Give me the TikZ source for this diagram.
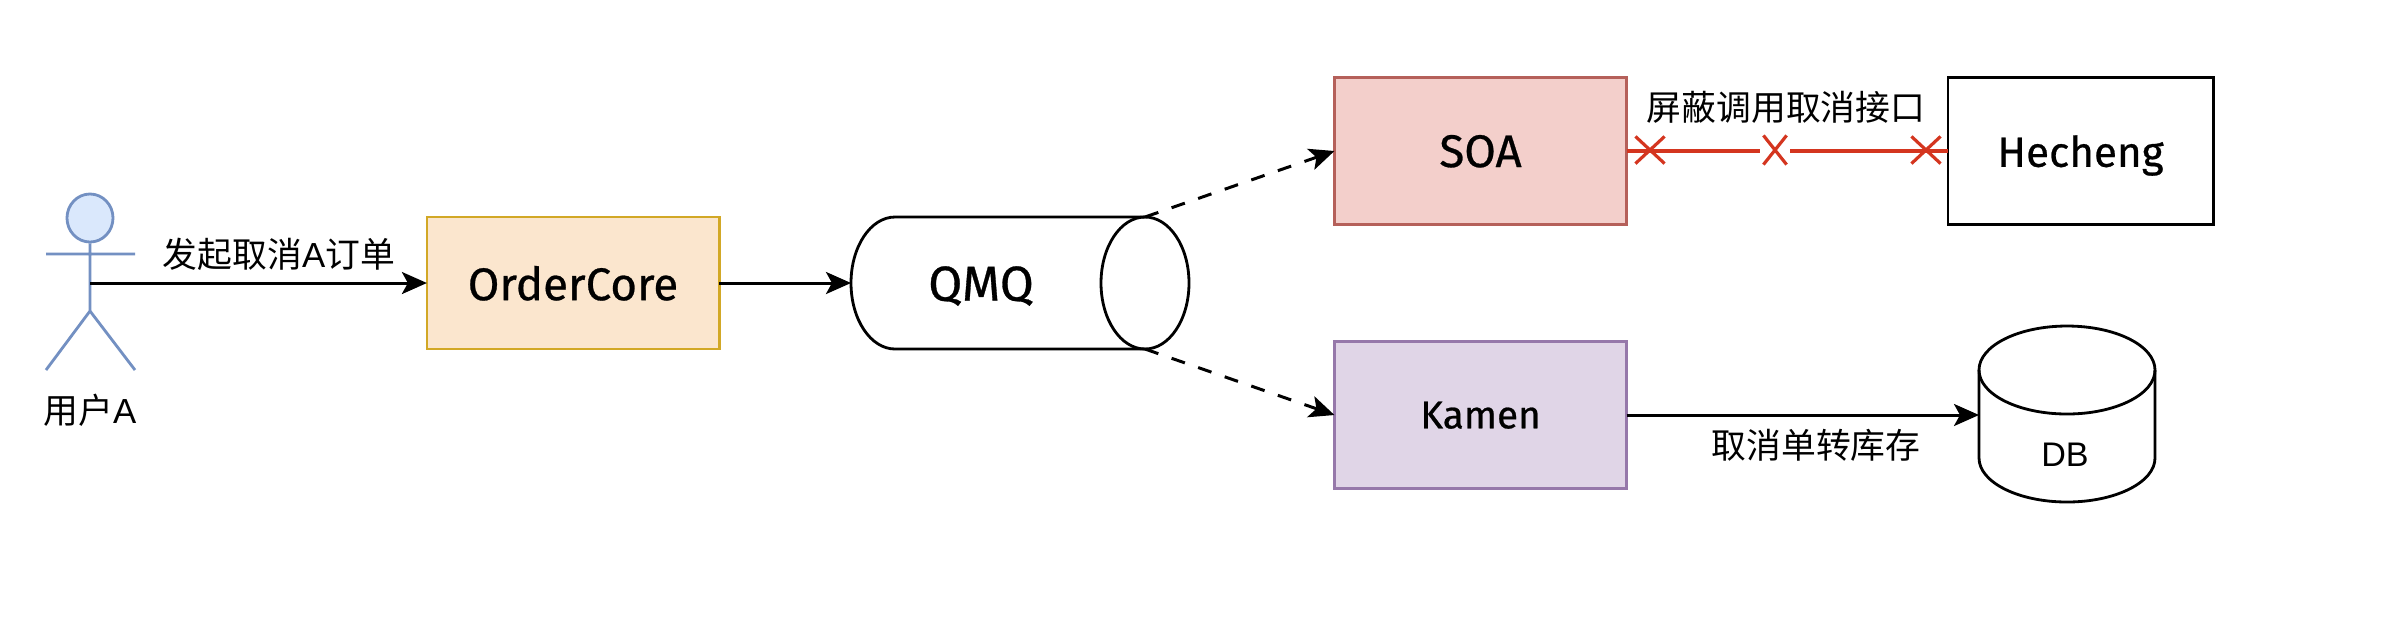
\documentclass[tikz,border=0pt]{standalone}
\usepackage{fontspec}
\setmainfont{Liberation Sans}
\newfontfamily\cjk{Noto Sans CJK SC}
\newfontfamily\hand[FakeBold=0.6]{Fira Sans}
\usetikzlibrary{arrows.meta,shapes.geometric,shapes.misc}
\definecolor{orF}{HTML}{FBE6CE}\definecolor{orD}{HTML}{D2A826}
\definecolor{reF}{HTML}{F3CFCB}\definecolor{reD}{HTML}{B5605A}
\definecolor{puF}{HTML}{E0D5E7}\definecolor{puD}{HTML}{9678AA}
\definecolor{blF}{HTML}{DAE8FC}\definecolor{blD}{HTML}{7390C2}
\definecolor{xred}{HTML}{D4351F}
\tikzset{
  x=0.01cm,y=-0.01cm,
  tip/.style={-{Stealth[length=0.25cm,width=0.22cm,inset=0.06cm]}},
  conn/.style={draw=black,line width=0.85pt,tip},
  dconn/.style={conn,dash pattern=on 4pt off 4pt},
  box/.style={draw,line width=0.8pt,minimum width=2.92cm,minimum height=1.47cm,inner sep=0pt,outer sep=0pt,
     text depth=0pt,font=\hand\fontsize{13pt}{15pt}\selectfont},
  lbl/.style={inner sep=0pt,font=\cjk\fontsize{9.9pt}{12pt}\selectfont},
  actorline/.style={draw=blD,line width=0.8pt},
  shapeline/.style={draw=black,line width=0.8pt},
  xmark/.style={cross out,draw=xred,line width=0.9pt,inner sep=0pt},
}
\begin{document}
\begin{tikzpicture}
\useasboundingbox[fill=white] (0,0) rectangle (2400,626);
% actor
\node[ellipse,draw=blD,fill=blF,line width=0.8pt,minimum width=0.46cm,minimum height=0.48cm,inner sep=0pt] (head) at (90,218) {};
\coordinate (armL) at (46,254);\coordinate (armR) at (135,254);
\coordinate (hip) at (90,311);
\coordinate (legL) at (46,370);\coordinate (legR) at (135,370);
\coordinate (actor) at (90,283);
\draw[actorline] (head.south) -- (hip) (armL) -- (armR) (legL) -- (hip) -- (legR);
\node[lbl] (userA) at (90,410) {用户{\fontspec{Liberation Sans}A}};
% boxes
\node[box,fill=orF,draw=orD,minimum height=1.32cm] (oc) at (573,283) {OrderCore};
\node[box,fill=reF,draw=reD] (soa) at (1480.5,151) {SOA};
\node[box,fill=puF,draw=puD,font=\hand\fontsize{11pt}{15pt}\selectfont] (kamen) at (1480.5,415) {Kamen};
\node[box,draw=black,minimum width=2.65cm,font=\hand\fontsize{12pt}{15pt}\selectfont] (hc) at (2080.5,151) {Hecheng};
% QMQ queue
\coordinate (qT) at (1145,217);\coordinate (qB) at (1145,349);
\coordinate (qL) at (851,283);
\draw[shapeline] (qT) arc[start angle=90,end angle=-270,x radius=44,y radius=-66];
\draw[shapeline] (qT) -- (895,217) arc[start angle=-90,end angle=-270,x radius=44,y radius=66] -- (qB);
\node[inner sep=0pt,font=\hand\fontsize{14pt}{16pt}\selectfont] (qmq) at (981,286) {QMQ};
% DB
\coordinate (dbL) at (1979,370);\coordinate (dbR) at (2155,370);
\coordinate (dbA) at (1979,415);
\draw[shapeline] (2067,370) ellipse[x radius=88,y radius=44];
\draw[shapeline] (dbL) -- (1979,458) arc[start angle=180,end angle=360,x radius=88,y radius=-44] -- (dbR);
\node[inner sep=0pt,font=\fontsize{9.7pt}{12pt}\selectfont] (db) at (2065,455) {DB};
% connectors
\draw[conn] (actor) -- (oc.west);
\draw[conn] (oc.east) -- (qL);
\draw[dconn] (qT) -- (soa.west);
\draw[dconn] (qB) -- (kamen.west);
\draw[conn] (kamen.east) -- (dbA);
\draw[draw=xred,line width=1pt] (soa.east) -- (hc.west);
\node[fill=white,minimum width=0.3cm,minimum height=0.3cm,inner sep=0pt] (gap) at (1775,150) {};
\node[xmark,minimum width=0.26cm,minimum height=0.24cm] (x1) at (1650,150) {};
\node[xmark,minimum width=0.2cm,minimum height=0.26cm] (x2) at (1775,150) {};
\node[xmark,minimum width=0.26cm,minimum height=0.24cm] (x3) at (1926,150) {};
% labels
\node[lbl] (l1) at (279,254) {发起取消{\fontspec{Liberation Sans}A}订单};
\node[lbl] (l2) at (1786,107) {屏蔽调用取消接口};
\node[lbl] (l3) at (1816,445) {取消单转库存};
\end{tikzpicture}
\end{document}
